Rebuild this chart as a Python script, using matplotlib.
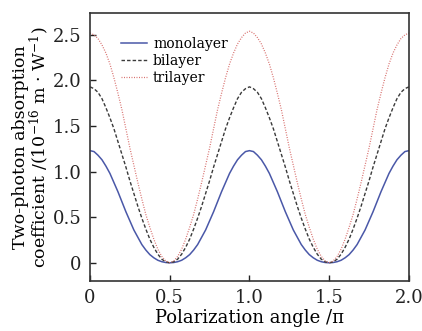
import matplotlib
matplotlib.use("Agg")
import matplotlib.pyplot as plt
from matplotlib.ticker import FixedLocator, FixedFormatter

plt.rcParams['font.family'] = ['DejaVu Serif']
plt.rcParams['mathtext.fontset'] = 'dejavuserif'

# polarization angle in units of pi, step 0.025
angle = [0.000, 0.025, 0.050, 0.075, 0.100, 0.125, 0.150, 0.175, 0.200, 0.225,
         0.250, 0.275, 0.300, 0.325, 0.350, 0.375, 0.400, 0.425, 0.450, 0.475,
         0.500, 0.525, 0.550, 0.575, 0.600, 0.625, 0.650, 0.675, 0.700, 0.725,
         0.750, 0.775, 0.800, 0.825, 0.850, 0.875, 0.900, 0.925, 0.950, 0.975,
         1.000, 1.025, 1.050, 1.075, 1.100, 1.125, 1.150, 1.175, 1.200, 1.225,
         1.250, 1.275, 1.300, 1.325, 1.350, 1.375, 1.400, 1.425, 1.450, 1.475,
         1.500, 1.525, 1.550, 1.575, 1.600, 1.625, 1.650, 1.675, 1.700, 1.725,
         1.750, 1.775, 1.800, 1.825, 1.850, 1.875, 1.900, 1.925, 1.950, 1.975,
         2.000]

monolayer = [1.23, 1.22, 1.18, 1.13, 1.06, 0.98, 0.88, 0.78, 0.67, 0.56,
             0.46, 0.36, 0.28, 0.20, 0.14, 0.09, 0.055, 0.028, 0.012, 0.003,
             0.0, 0.003, 0.012, 0.028, 0.055, 0.09, 0.14, 0.20, 0.28, 0.36,
             0.46, 0.56, 0.67, 0.78, 0.88, 0.98, 1.06, 1.13, 1.18, 1.22,
             1.23, 1.22, 1.18, 1.13, 1.06, 0.98, 0.88, 0.78, 0.67, 0.56,
             0.46, 0.36, 0.28, 0.20, 0.14, 0.09, 0.055, 0.028, 0.012, 0.003,
             0.0, 0.003, 0.012, 0.028, 0.055, 0.09, 0.14, 0.20, 0.28, 0.36,
             0.46, 0.56, 0.67, 0.78, 0.88, 0.98, 1.06, 1.13, 1.18, 1.22,
             1.23]
bilayer = [1.93, 1.91, 1.87, 1.80, 1.70, 1.59, 1.47, 1.33, 1.19, 1.05,
           0.90, 0.76, 0.62, 0.49, 0.37, 0.26, 0.17, 0.095, 0.04, 0.01,
           0.0, 0.01, 0.04, 0.095, 0.17, 0.26, 0.37, 0.49, 0.62, 0.76,
           0.90, 1.05, 1.19, 1.33, 1.47, 1.59, 1.70, 1.80, 1.87, 1.91,
           1.93, 1.91, 1.87, 1.80, 1.70, 1.59, 1.47, 1.33, 1.19, 1.05,
           0.90, 0.76, 0.62, 0.49, 0.37, 0.26, 0.17, 0.095, 0.04, 0.01,
           0.0, 0.01, 0.04, 0.095, 0.17, 0.26, 0.37, 0.49, 0.62, 0.76,
           0.90, 1.05, 1.19, 1.33, 1.47, 1.59, 1.70, 1.80, 1.87, 1.91,
           1.93]
trilayer = [2.52, 2.50, 2.46, 2.39, 2.30, 2.18, 2.03, 1.86, 1.68, 1.47,
            1.26, 1.07, 0.88, 0.70, 0.53, 0.39, 0.26, 0.15, 0.07, 0.02,
            0.0, 0.02, 0.07, 0.15, 0.26, 0.39, 0.53, 0.70, 0.88, 1.07,
            1.26, 1.47, 1.68, 1.86, 2.03, 2.18, 2.30, 2.40, 2.47, 2.52,
            2.54, 2.52, 2.47, 2.40, 2.30, 2.18, 2.03, 1.86, 1.68, 1.47,
            1.26, 1.07, 0.88, 0.70, 0.53, 0.39, 0.26, 0.15, 0.07, 0.02,
            0.0, 0.02, 0.07, 0.15, 0.26, 0.39, 0.53, 0.70, 0.88, 1.07,
            1.26, 1.47, 1.68, 1.86, 2.03, 2.18, 2.30, 2.39, 2.46, 2.50,
            2.52]

xticks = [0, 0.5, 1.0, 1.5, 2.0]
xticklabels = ['0', '0.5', '1.0', '1.5', '2.0']
yticks = [0, 0.5, 1.0, 1.5, 2.0, 2.5]
yticklabels = ['0', '0.5', '1.0', '1.5', '2.0', '2.5']

fig = plt.figure(figsize=(4.22, 3.31), dpi=100)
ax = fig.add_axes([0.2133, 0.151, 0.7557, 0.8097])

ax.plot(angle, monolayer, color='#4a58a8', lw=1.1, label='monolayer')
ax.plot(angle, bilayer, color='#3a3a3a', lw=1.0, dashes=(2.5, 1.5), label='bilayer')
ax.plot(angle, trilayer, color='#d8706e', lw=0.9, dashes=(0.8, 1.2), label='trilayer')

ax.set_xlim(0, 2.0)
ax.set_ylim(-0.2, 2.74)
ax.xaxis.set_major_locator(FixedLocator(xticks))
ax.xaxis.set_major_formatter(FixedFormatter(xticklabels))
ax.yaxis.set_major_locator(FixedLocator(yticks))
ax.yaxis.set_major_formatter(FixedFormatter(yticklabels))
ax.tick_params(direction='in', length=4, width=1, labelsize=13, pad=6,
               colors='#222222')
for s in ax.spines.values():
    s.set_linewidth(1.2)
    s.set_color('#333333')

ax.set_xlabel('Polarization angle /\u03c0', fontsize=13, labelpad=1)
ax.set_ylabel('Two-photon absorption\ncoefficient /(10$^{-16}$ m \u00b7 W$^{-1}$)',
              fontsize=12.5, labelpad=1, linespacing=0.95)

leg = ax.legend(loc='upper left', bbox_to_anchor=(0.08, 0.93), frameon=False,
                fontsize=10, handlelength=1.9, handletextpad=0.4,
                labelspacing=0.2, borderaxespad=0)

fig.savefig('out.png', dpi=100)
